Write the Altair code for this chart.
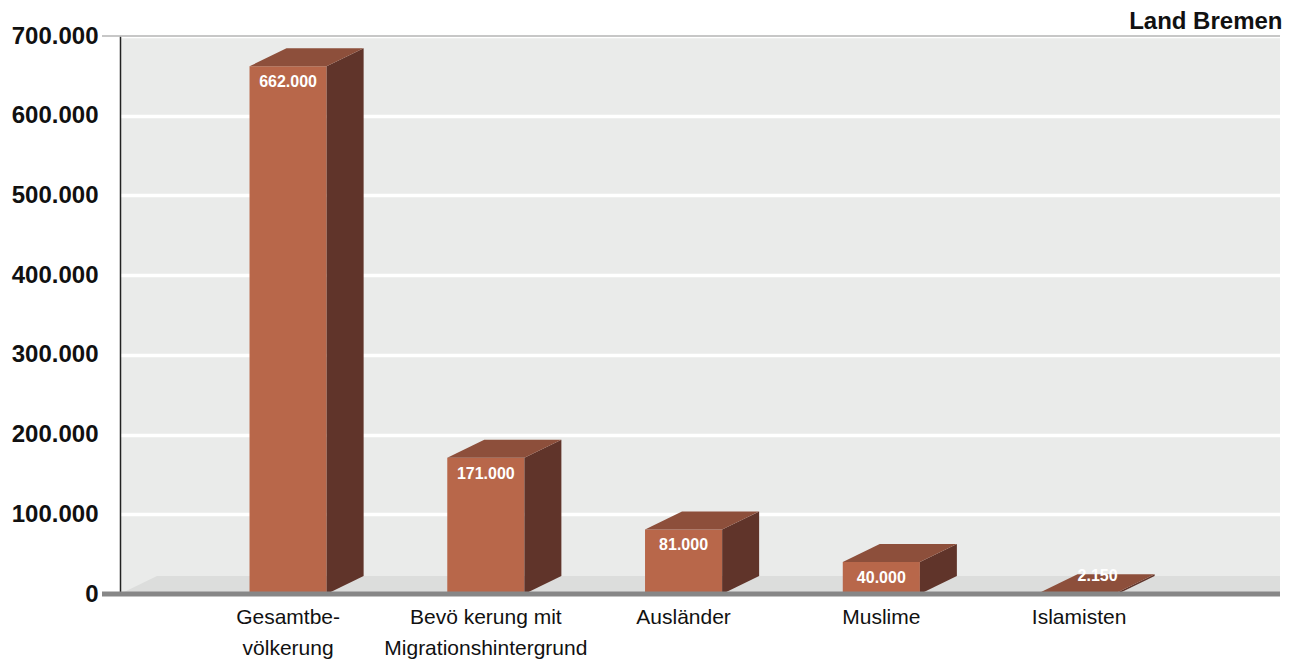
import altair as alt
import pandas as pd

# ---- data ----
categories = ["Gesamtbe-\nvölkerung", "Bevö kerung mit\nMigrationshintergrund",
              "Ausländer", "Muslime", "Islamisten"]
values = [662000, 171000, 81000, 40000, 2150]
y_ticks = [0, 100000, 200000, 300000, 400000, 500000, 600000, 700000]
chart_title = "Land Bremen"

# ---- layout / style constants ----
W, H = 1160, 558
STEP_PX = 197.75
X_MAX = W / STEP_PX          # x domain in "category steps"
FIRST = 0.85                 # centre of first category (in steps)
HALF = 0.195                 # half bar width (in steps)
DX = 0.187                   # 3D depth, horizontal (in steps)
DY = 22600                   # 3D depth, vertical (in value units)
FONT = "Liberation Sans"
C_FRONT, C_TOP, C_SIDE = "#b8674a", "#8d4f3b", "#60342a"

bars = pd.DataFrame({"name": categories, "value": values})
bars["c"] = FIRST + bars.index
bars["xl"] = bars["c"] - HALF
bars["xr"] = bars["c"] + HALF

side_rows, top_rows = [], []
for _, r in bars.iterrows():
    side_rows.append({"name": r["name"], "x": r["xr"], "top": r["value"], "bot": 0})
    side_rows.append({"name": r["name"], "x": r["xr"] + DX, "top": r["value"] + DY, "bot": DY})
    top_rows.append({"name": r["name"], "y": r["value"], "xa": r["xl"], "xb": r["xr"]})
    top_rows.append({"name": r["name"], "y": r["value"] + DY, "xa": r["xl"] + DX, "xb": r["xr"] + DX})
side = pd.DataFrame(side_rows)
topf = pd.DataFrame(top_rows)
floor = pd.DataFrame({"y": [0, DY], "xa": [0, DX], "xb": [X_MAX, X_MAX]})

xs = alt.Scale(domain=[0, X_MAX], nice=False, zero=False)
ys = alt.Scale(domain=[0, 700000], nice=False)

label_expr = "replace(format(datum.value, ','), ',', '.')"

base_axis = alt.Axis(
    values=y_ticks, labelExpr=label_expr, labelFont=FONT, labelFontSize=24,
    labelFontWeight="bold", labelColor="#111111", labelPadding=22, ticks=False,
    domain=True, domainColor="#222222", domainWidth=1.5, grid=True,
    gridColor="#ffffff", gridWidth=3.5, title=None, labelFlush=False,
    labelOverlap=False, labelBound=False,
)

floor_layer = alt.Chart(floor).mark_area(orient="horizontal", color="#dcdddc").encode(
    y=alt.Y("y:Q", scale=ys, axis=base_axis, stack=None),
    x=alt.X("xa:Q", scale=xs, axis=None, stack=None),
    x2="xb:Q",
)

top_border = alt.Chart(pd.DataFrame({"v": [700000]})).mark_rule(
    color="#b4b4b4", strokeWidth=1.5
).encode(y=alt.Y("v:Q", scale=ys, axis=base_axis), x=alt.value(-18), x2=alt.value(W))

front = alt.Chart(bars).mark_rect(color=C_FRONT).encode(
    x=alt.X("xl:Q", scale=xs, axis=None), x2="xr:Q",
    y=alt.Y("value:Q", scale=ys, axis=base_axis), y2=alt.datum(0),
)

side_layer = alt.Chart(side).mark_area(color=C_SIDE, orient="vertical").encode(
    x=alt.X("x:Q", scale=xs, axis=None),
    y=alt.Y("top:Q", scale=ys, stack=None, axis=base_axis), y2="bot:Q",
    detail="name:N",
)

top_layer = alt.Chart(topf).mark_area(color=C_TOP, orient="horizontal").encode(
    y=alt.Y("y:Q", scale=ys, stack=None, axis=base_axis),
    x=alt.X("xa:Q", scale=xs, stack=None, axis=None), x2="xb:Q",
    detail="name:N",
)

baseline = alt.Chart(pd.DataFrame({"v": [0]})).mark_rule(
    color="#878787", strokeWidth=5
).encode(y=alt.Y("v:Q", scale=ys, axis=base_axis), x=alt.value(-18), x2=alt.value(W))

big_labels = alt.Chart(bars).transform_filter("datum.value >= 20000").transform_calculate(
    lab=label_expr
).mark_text(
    font=FONT, fontSize=16, fontWeight="bold", color="#ffffff", dy=16, baseline="middle"
).encode(x=alt.X("c:Q", scale=xs, axis=None), y=alt.Y("value:Q", scale=ys, axis=base_axis),
         text="lab:N")

small_labels = alt.Chart(bars).transform_filter("datum.value < 20000").transform_calculate(
    lab=label_expr, lx=f"datum.c + {DX / 2}", ly=f"datum.value + {DY / 2}"
).mark_text(
    font=FONT, fontSize=16, fontWeight="bold", color="#ffffff", dy=-7, baseline="middle"
).encode(x=alt.X("lx:Q", scale=xs, axis=None), y=alt.Y("ly:Q", scale=ys, axis=base_axis),
         text="lab:N")

cat_labels = alt.Chart(bars).mark_text(
    font=FONT, fontSize=21, color="#111111", baseline="top", dy=13,
    lineBreak="\n", lineHeight=31,
).encode(x=alt.X("c:Q", scale=xs, axis=None), y=alt.datum(0), text="name:N")

chart = alt.layer(
    floor_layer, top_border, front, side_layer, top_layer, baseline,
    big_labels, small_labels, cat_labels,
).properties(
    width=W, height=H,
    padding={"left": 112, "top": 28, "right": 4, "bottom": 65},
    autosize=alt.AutoSizeParams(type="none"),
    background="#ffffff",
    title=alt.TitleParams(chart_title, anchor="end", font=FONT, fontSize=24,
                          fontWeight="bold", color="#111111", offset=-10),
).configure_view(fill="#eaebea", strokeWidth=0)

chart.save("out.html", embed_options={"renderer": "svg", "actions": False})
